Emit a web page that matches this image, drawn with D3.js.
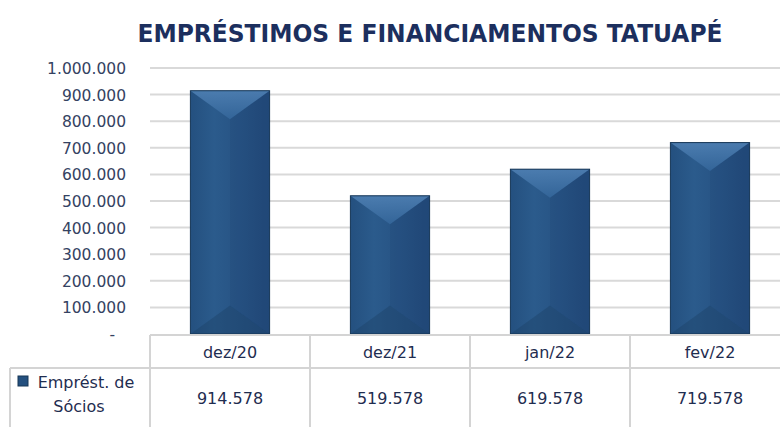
<!DOCTYPE html>
<html><head><meta charset="utf-8">
<script src="https://cdn.jsdelivr.net/npm/d3@7"></script>
<style>body{margin:0;background:#fff}svg{display:block}</style>
</head><body>
<svg id="chart" width="780" height="427"></svg>
<script>
const title = "EMPRÉSTIMOS E FINANCIAMENTOS TATUAPÉ";
const categories = ["dez/20", "dez/21", "jan/22", "fev/22"];
const seriesName = ["Emprést. de", "Sócios"];
const values = [914578, 519578, 619578, 719578];
const yTicks = [0, 100000, 200000, 300000, 400000, 500000, 600000, 700000, 800000, 900000, 1000000];

(function () {
const loc = d3.formatLocale({decimal: ",", thousands: ".", grouping: [3], currency: ["R$", ""]});
const fmt = loc.format(",d");

const svg = d3.select("#chart");
const W = 780, H = 427;
const pLeft = 150, pRight = 790, pTop = 68, pBottom = 334;

const x = d3.scaleBand().domain(categories).range([pLeft, pRight]).paddingInner(0.505).paddingOuter(0.2525);
const y = d3.scaleLinear().domain([0, 1000000]).range([pBottom, pTop]);

const defs = svg.append("defs");
const g1 = defs.append("linearGradient").attr("id", "barH").attr("x1", 0).attr("x2", 1).attr("y1", 0).attr("y2", 0);
g1.append("stop").attr("offset", "0").attr("stop-color", "#24507f");
g1.append("stop").attr("offset", "0.3").attr("stop-color", "#2b5b8c");
g1.append("stop").attr("offset", "1").attr("stop-color", "#22497a");
const g2 = defs.append("linearGradient").attr("id", "topBev").attr("x1", 0).attr("x2", 0).attr("y1", 0).attr("y2", 1);
g2.append("stop").attr("offset", "0").attr("stop-color", "#4f80b3");
g2.append("stop").attr("offset", "1").attr("stop-color", "#34669a");

// title
svg.append("text").attr("x", 430).attr("y", 42).attr("text-anchor", "middle")
  .attr("font-family", "'DejaVu Sans', sans-serif").attr("font-weight", "bold").attr("font-size", 25)
  .attr("fill", "#1c2f5e").attr("textLength", 585).attr("lengthAdjust", "spacingAndGlyphs").text(title);

// gridlines
svg.append("g").selectAll("line").data(yTicks.filter(d => d > 0)).join("line")
  .attr("x1", pLeft).attr("x2", W).attr("y1", d => y(d)).attr("y2", d => y(d))
  .attr("stroke", "#d9d9d9").attr("stroke-width", 2);

// y axis
const yAxis = d3.axisLeft(y).tickValues(yTicks).tickSize(0).tickPadding(0)
  .tickFormat(d => d === 0 ? "-" : fmt(d));
const ya = svg.append("g").attr("transform", "translate(126,0)").call(yAxis);
ya.select(".domain").remove();
ya.selectAll("text").attr("font-family", "'DejaVu Sans', sans-serif").attr("font-size", 15.5)
  .attr("fill", "#344262").attr("dy", "0.35em");
ya.selectAll(".tick").filter(d => d === 0).select("text").attr("dx", -11);

// bars
const bars = svg.append("g").selectAll("g").data(categories.map((c, i) => ({c, v: values[i]}))).join("g");
bars.each(function(d) {
  const gg = d3.select(this);
  const x0 = x(d.c), w = x.bandwidth(), y0 = y(d.v), y1 = y(0), h = y1 - y0;
  const dep = Math.min(w * 0.36, h / 2);
  gg.append("rect").attr("x", x0).attr("y", y0).attr("width", w).attr("height", h).attr("fill", "url(#barH)");
  gg.append("path").attr("d", `M${x0},${y0}L${x0 + w},${y0}L${x0 + w / 2},${y0 + dep}Z`).attr("fill", "url(#topBev)").attr("opacity", 0.9);
  gg.append("path").attr("d", `M${x0},${y1}L${x0 + w},${y1}L${x0 + w / 2},${y1 - dep}Z`).attr("fill", "#1d4369").attr("opacity", 0.45);
  gg.append("path").attr("d", `M${x0 + w},${y0}L${x0 + w},${y1}L${x0 + w / 2},${y1 - dep}L${x0 + w / 2},${y0 + dep}Z`).attr("fill", "#173a60").attr("opacity", 0.12);
  gg.append("rect").attr("x", x0).attr("y", y0).attr("width", w).attr("height", h)
    .attr("fill", "none").attr("stroke", "#163656").attr("stroke-width", 1);
});

// data table
const tb = svg.append("g");
const rowTop = 335, rowMid = 368;
const lineC = "#d4d4d4";
tb.append("line").attr("x1", pLeft).attr("x2", W).attr("y1", rowTop).attr("y2", rowTop).attr("stroke", lineC).attr("stroke-width", 2);
tb.append("line").attr("x1", 10).attr("x2", W).attr("y1", rowMid).attr("y2", rowMid).attr("stroke", lineC).attr("stroke-width", 2);
tb.append("line").attr("x1", 10).attr("x2", 10).attr("y1", rowMid).attr("y2", H).attr("stroke", lineC).attr("stroke-width", 2);
tb.selectAll("line.v").data(categories).join("line").attr("class", "v")
  .attr("x1", d => x(d) - x.step() * x.paddingOuter()).attr("x2", d => x(d) - x.step() * x.paddingOuter())
  .attr("y1", rowTop).attr("y2", H).attr("stroke", lineC).attr("stroke-width", 2);
tb.selectAll("text.cat").data(categories).join("text").attr("class", "cat")
  .attr("x", d => x(d) + x.bandwidth() / 2).attr("y", 358).attr("text-anchor", "middle")
  .attr("font-family", "'DejaVu Sans', sans-serif").attr("font-size", 16).attr("fill", "#1f2d50").text(d => d);
tb.selectAll("text.val").data(values).join("text").attr("class", "val")
  .attr("x", (d, i) => x(categories[i]) + x.bandwidth() / 2).attr("y", 404).attr("text-anchor", "middle")
  .attr("font-family", "'DejaVu Sans', sans-serif").attr("font-size", 16).attr("fill", "#1f2d50").text(d => fmt(d));
tb.append("rect").attr("x", 18).attr("y", 376).attr("width", 10).attr("height", 10).attr("fill", "#24507f").attr("stroke", "#163656");
tb.append("text").attr("x", 86).attr("y", 388).attr("text-anchor", "middle")
  .attr("font-family", "'DejaVu Sans', sans-serif").attr("font-size", 16).attr("fill", "#1f2d50").text(seriesName[0]);
tb.append("text").attr("x", 79).attr("y", 412).attr("text-anchor", "middle")
  .attr("font-family", "'DejaVu Sans', sans-serif").attr("font-size", 16).attr("fill", "#1f2d50").text(seriesName[1]);
})();
</script>
</body></html>
